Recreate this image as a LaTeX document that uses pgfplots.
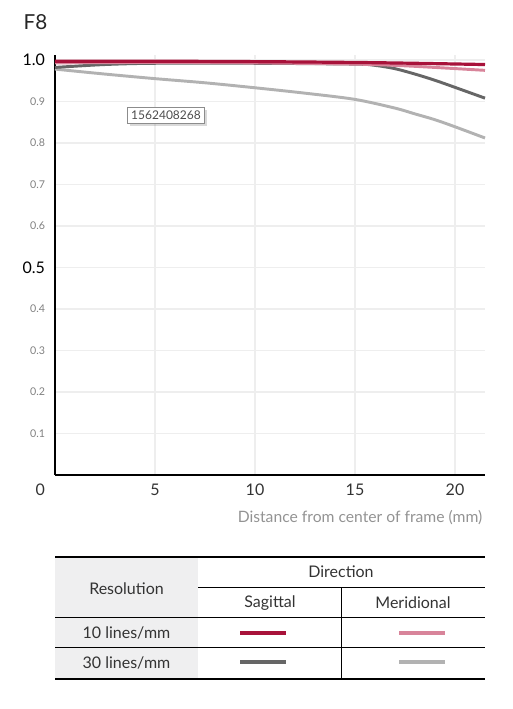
\documentclass[border=0pt]{standalone}
\usepackage{fontspec}
\setmainfont{Lato}
\usepackage{pgfplots}
\pgfplotsset{compat=1.18}
\usetikzlibrary{shadows}

\definecolor{sagred}{HTML}{A8123A}
\definecolor{merpink}{HTML}{D8849A}
\definecolor{saggray}{HTML}{666666}
\definecolor{mergray}{HTML}{B2B2B2}
\definecolor{gridc}{HTML}{EEEEEE}
\definecolor{cellgray}{HTML}{EFEFF0}
\definecolor{txt}{HTML}{333333}

\newcommand{\sml}[1]{{\fontsize{8}{9}\selectfont\color{gray}#1}}
\newcommand{\bgl}[1]{{\fontsize{12}{14}\selectfont\color{black}#1}}

\begin{document}
\begin{tikzpicture}[x=0.75pt,y=0.75pt]
\useasboundingbox (0,0) rectangle (513,709);
\coordinate (axorigin) at (55,234);

\begin{axis}[
    at={(axorigin)}, anchor=south west,
    scale only axis,
    width=322.5pt, height=315pt,
    xmin=0, xmax=21.5, ymin=0, ymax=1.012,
    axis x line=bottom, axis y line=left,
    axis line style={-, line width=1.5pt, black},
    xtick={5,10,15,20},
    xticklabels={5,10,15,20},
    ytick={0.1,0.2,0.3,0.4,0.5,0.6,0.7,0.8,0.9,1.0},
    yticklabels={\sml{0.1},\sml{0.2},\sml{0.3},\sml{0.4},\bgl{0.5},\sml{0.6},\sml{0.7},\sml{0.8},\sml{0.9},\bgl{1.0}},
    major tick length=0pt,
    grid=major,
    major grid style={gridc, line width=0.8pt},
    xticklabel style={font=\fontsize{12}{14}\selectfont, text=txt, yshift=-3pt},
    yticklabel style={anchor=east, xshift=-4pt},
    /pgf/number format/assume math mode=true,
    clip=false,
]
\addplot[mergray, line width=2.2pt, smooth] coordinates {
    (0,0.978) (2.5,0.966) (5,0.955) (7.5,0.945) (10,0.933) (12.5,0.920)
    (15,0.905) (17,0.884) (18,0.870) (19,0.856) (20,0.839) (21.5,0.812)
};
\addplot[saggray, line width=2.2pt, smooth] coordinates {
    (0,0.982) (2.5,0.989) (5,0.992) (10,0.992) (15,0.990) (16,0.987)
    (17,0.979) (18,0.966) (19,0.951) (20,0.934) (21.5,0.908)
};
\addplot[merpink, line width=2.2pt, smooth] coordinates {
    (0,0.993) (5,0.994) (10,0.993) (15,0.990) (17,0.987) (19,0.982) (21.5,0.975)
};
\addplot[sagred, line width=2.4pt, smooth] coordinates {
    (0,0.997) (5,0.997) (10,0.996) (15,0.994) (18,0.992) (21.5,0.989)
};
\node[anchor=north, font=\fontsize{12}{14}\selectfont, text=txt, yshift=-3pt]
    at (axis cs:0,0) [xshift=-11pt] {0};
\node[draw=gray!90, fill=white, drop shadow={shadow xshift=2pt, shadow yshift=-2pt, opacity=0.3},
    font=\fontsize{9}{10}\selectfont, text=black!70, inner sep=2.8pt, line width=0.6pt]
    at (axis cs:5.55,0.867) {1562408268};
\end{axis}

% title and axis label
\node[anchor=west, font=\fontsize{15.5}{18}\selectfont, text=black!85] at (19,687) {F8};
\node[anchor=east, font=\fontsize{11.75}{14}\selectfont, text=gray!85] at (487,191)
    {Distance from center of frame (mm)};

% legend table
\fill[cellgray] (55,30) rectangle (198,152);
\draw[line width=1.5pt] (55,152) -- (485,152);
\draw[line width=1.5pt] (55,30) -- (485,30);
\draw[line width=0.75pt] (198,121) -- (485,121);
\draw[line width=0.75pt] (55,91) -- (485,91);
\draw[line width=0.75pt] (55,61) -- (485,61);
\draw[line width=0.75pt] (341,121) -- (341,30);

\begin{scope}[every node/.style={font=\fontsize{12}{14}\selectfont, text=txt}]
\node at (126.5,120) {Resolution};
\node at (341,137) {Direction};
\node at (270,106) {Sagittal};
\node at (413,106) {Meridional};
\node at (126.5,76) {10 lines/mm};
\node at (126.5,46) {30 lines/mm};
\end{scope}
\draw[sagred, line width=2.4pt] (240,76) -- (286,76);
\draw[merpink, line width=2.4pt] (399,76) -- (445,76);
\draw[saggray, line width=2.4pt] (240,47) -- (286,47);
\draw[mergray, line width=2.4pt] (399,47) -- (445,47);
\end{tikzpicture}
\end{document}
